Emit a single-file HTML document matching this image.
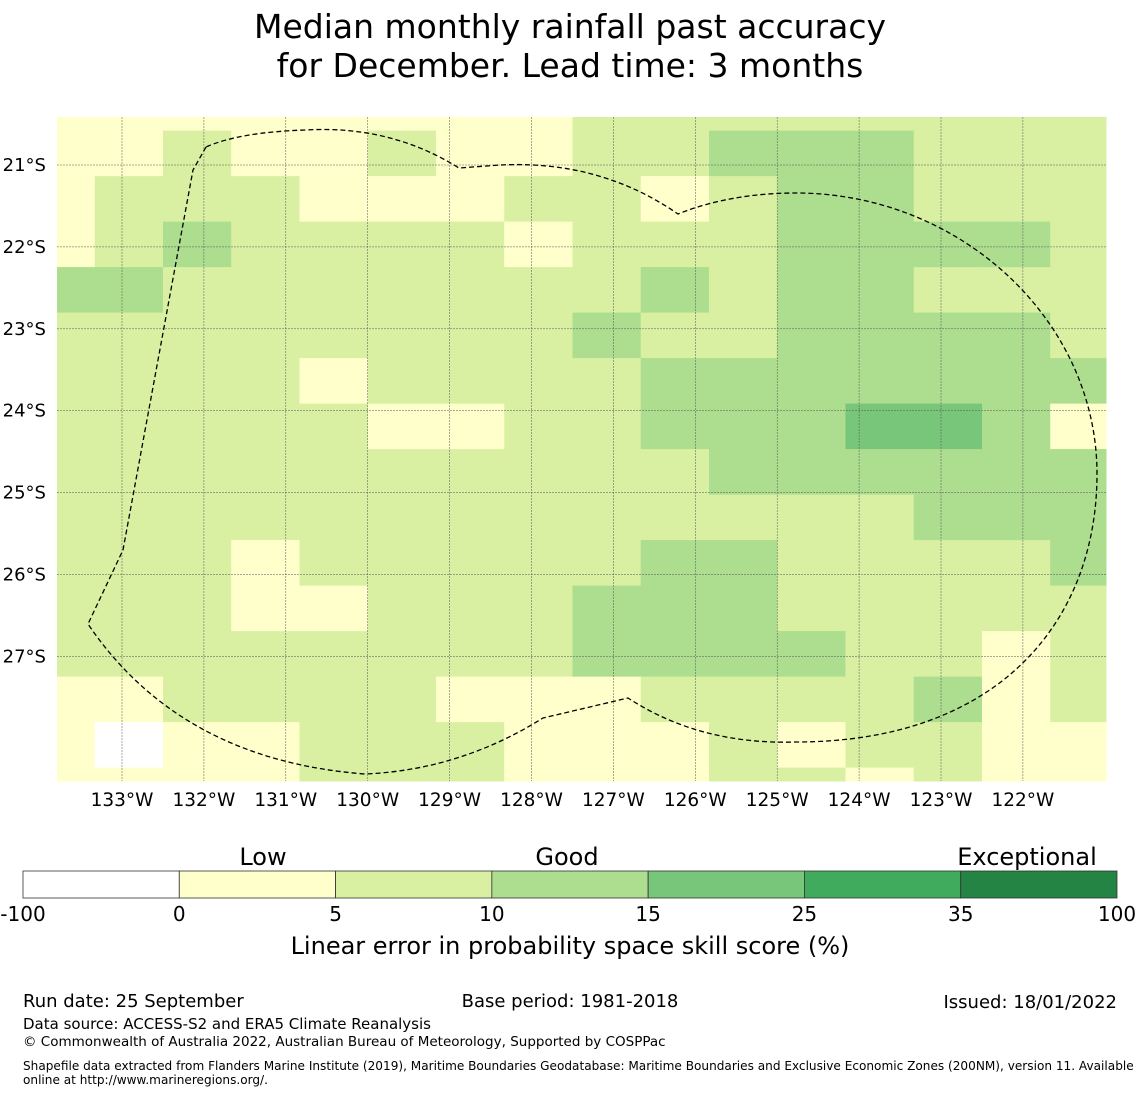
<!DOCTYPE html>
<html><head><meta charset="utf-8">
<style>
body{margin:0;background:#fff;width:1140px;height:1095px;overflow:hidden;font-family:"Liberation Sans","DejaVu Sans",sans-serif;}
svg text{font-family:"DejaVu Sans","Liberation Sans",sans-serif;}
</style></head>
<body>
<svg id="chart" width="1140" height="1095" xmlns="http://www.w3.org/2000/svg">
<text x="570" y="38" font-size="33" text-anchor="middle">Median monthly rainfall past accuracy</text>
<text x="570" y="77" font-size="33" text-anchor="middle">for December. Lead time: 3 months</text>
<g id="cells"></g>
<g id="grid"></g>
<path fill="none" stroke="#000" stroke-width="1.3" stroke-dasharray="5,3"
d="M206,147 L193,170 L123,550 L88,624 Q180,760 365,774 Q460,770 543,718 L628,698 Q700,745 796,742 C1000,742 1097,620 1097,474 C1097,320 960,193 796,193 C740,193 700,205 678,214 Q600,160 500,165 L459,168 Q390,125 306,130 Q240,132 206,147 Z"/>
<g id="axes"></g>
<g id="cbar"></g>
<text x="263" y="865" font-size="24" text-anchor="middle">Low</text>
<text x="567" y="865" font-size="24" text-anchor="middle">Good</text>
<text x="1027" y="865" font-size="24" text-anchor="middle">Exceptional</text>
<text x="570" y="954" font-size="24" text-anchor="middle">Linear error in probability space skill score (%)</text>
<text x="23" y="1007" font-size="18">Run date: 25 September</text>
<text x="570" y="1007" font-size="18" text-anchor="middle">Base period: 1981-2018</text>
<text x="1117" y="1008" font-size="18" text-anchor="end">Issued: 18/01/2022</text>
<text x="23" y="1029" font-size="15">Data source: ACCESS-S2 and ERA5 Climate Reanalysis</text>
<text x="23" y="1046" font-size="13.5">© Commonwealth of Australia 2022, Australian Bureau of Meteorology, Supported by COSPPac</text>
<text x="23" y="1070" font-size="12.1">Shapefile data extracted from Flanders Marine Institute (2019), Maritime Boundaries Geodatabase: Maritime Boundaries and Exclusive Economic Zones (200NM), version 11. Available</text>
<text x="23" y="1084" font-size="12.1">online at http://www.marineregions.org/.</text>
</svg>
<script>
const NS="http://www.w3.org/2000/svg";
const lonTicks=[133,132,131,130,129,128,127,126,125,124,123,122];
const latTicks=[21,22,23,24,25,26,27];
const levelColors=["#ffffff","#ffffcc","#d9f0a3","#addd8e","#78c679","#41ab5d","#238443"];
const cbarTicks=["-100","0","5","10","15","25","35","100"];
// skill level index per cell, rows north to south, cols west to east
const row0=[1,1,1,1,1,1,1,1,2,2,2,2,2,2,2,2];
const row1=[1,1,2,1,1,2,1,1,2,2,3,3,3,2,2,2];
const row2=[1,2,2,2,1,1,1,2,2,1,2,3,3,2,2,2];
const row3=[1,2,3,2,2,2,2,1,2,2,2,3,3,3,3,2];
const row4=[3,3,2,2,2,2,2,2,2,3,2,3,3,2,2,2];
const row5=[2,2,2,2,2,2,2,2,3,2,2,3,3,3,3,2];
const row6=[2,2,2,2,1,2,2,2,2,3,3,3,3,3,3,3];
const row7=[2,2,2,2,2,1,1,2,2,3,3,3,4,4,3,1];
const row8=[2,2,2,2,2,2,2,2,2,2,3,3,3,3,3,3];
const row9=[2,2,2,2,2,2,2,2,2,2,2,2,2,3,3,3];
const row10=[2,2,2,1,2,2,2,2,2,3,3,2,2,2,2,3];
const row11=[2,2,2,1,1,2,2,2,3,3,3,2,2,2,2,2];
const row12=[2,2,2,2,2,2,2,2,3,3,3,3,2,2,1,2];
const row13=[1,1,2,2,2,2,1,1,1,2,2,2,2,3,1,2];
const row14=[1,0,1,1,2,2,2,1,1,1,2,1,2,2,1,1];
const row15=[1,1,1,1,2,2,2,1,1,1,2,2,1,2,1,1];
const rows=[row0,row1,row2,row3,row4,row5,row6,row7,row8,row9,row10,row11,row12,row13,row14,row15];

const X0=57,X1=1106,Y0=117,Y1=781;
function xOf(lonW){return 122+(133-lonW)*81.9;}
function yOf(latS){return 165+(latS-21)*81.9;}
const dLon=5/6, dLat=5/9;
function colEdge(i){return xOf(133.333-dLon*(i-1));}
function rowEdge(j){return yOf(20.58+dLat*(j-1));}
const cells=document.getElementById('cells');
rows.forEach((r,j)=>{r.forEach((v,i)=>{
  let x0=i===0?X0:colEdge(i), x1=i===r.length-1?X1:colEdge(i+1);
  let y0=j===0?Y0:rowEdge(j), y1=j===rows.length-1?Y1:rowEdge(j+1);
  x0=Math.max(X0,x0);x1=Math.min(X1,x1);y0=Math.max(Y0,y0);y1=Math.min(Y1,y1);
  const c=document.createElementNS(NS,'rect');
  c.setAttribute('x',x0);c.setAttribute('y',y0);c.setAttribute('width',x1-x0+0.5);c.setAttribute('height',y1-y0+0.5);
  c.setAttribute('fill',levelColors[v]);
  
  
  cells.appendChild(c);
});});
const grid=document.getElementById('grid'),axes=document.getElementById('axes');
lonTicks.forEach(l=>{
  const x=xOf(l);
  const g=document.createElementNS(NS,'line');
  g.setAttribute('x1',x);g.setAttribute('x2',x);g.setAttribute('y1',Y0);g.setAttribute('y2',Y1);
  g.setAttribute('stroke','#555');g.setAttribute('stroke-width','0.5');g.setAttribute('stroke-dasharray','2,1');
  
  
  grid.appendChild(g);
  const t=document.createElementNS(NS,'text');
  t.setAttribute('x',x);t.setAttribute('y',806);t.setAttribute('font-size','18.5');t.setAttribute('text-anchor','middle');
  t.textContent=l+'°W';
  
  
  axes.appendChild(t);
});
latTicks.forEach(l=>{
  const y=yOf(l);
  const g=document.createElementNS(NS,'line');
  g.setAttribute('x1',X0);g.setAttribute('x2',X1);g.setAttribute('y1',y);g.setAttribute('y2',y);
  g.setAttribute('stroke','#555');g.setAttribute('stroke-width','0.5');g.setAttribute('stroke-dasharray','2,1');
  
  
  grid.appendChild(g);
  const t=document.createElementNS(NS,'text');
  t.setAttribute('x',46);t.setAttribute('y',y+6);t.setAttribute('font-size','18');t.setAttribute('text-anchor','end');
  t.textContent=l+'°S';
  
  
  axes.appendChild(t);
});
const cb=document.getElementById('cbar');
const cbX0=23,cbX1=1117,cbY=871,cbH=27,nSeg=levelColors.length;
function cbX(i){return cbX0+(cbX1-cbX0)*i/nSeg;}
levelColors.forEach((c,i)=>{
  const r=document.createElementNS(NS,'rect');
  r.setAttribute('x',cbX(i));r.setAttribute('y',cbY);r.setAttribute('width',cbX(i+1)-cbX(i));r.setAttribute('height',cbH);
  r.setAttribute('fill',c);r.setAttribute('stroke','#333');r.setAttribute('stroke-width','0.8');
  
  
  cb.appendChild(r);
});
cbarTicks.forEach((s,i)=>{
  const t=document.createElementNS(NS,'text');
  t.setAttribute('x',cbX(i));t.setAttribute('y',921);t.setAttribute('font-size','20');t.setAttribute('text-anchor','middle');
  t.textContent=s;
  
  
  cb.appendChild(t);
});
</script>
</body></html>
